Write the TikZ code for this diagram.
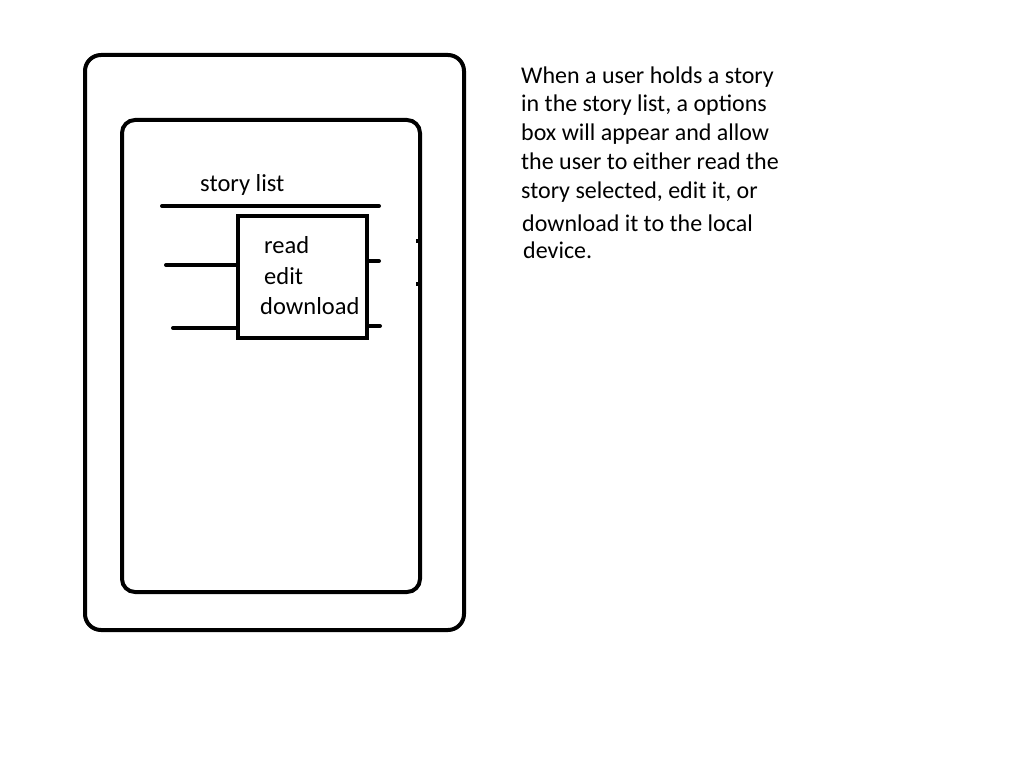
\documentclass[tikz,border=0pt]{standalone}
\usepackage{fontspec}
\setmainfont{Carlito}
\begin{document}
\begin{tikzpicture}[x=1pt,y=-1pt,
  thick line/.style={line width=4pt},
  frame/.style={draw,line width=4pt},
  txt/.style={inner sep=0pt,anchor=base west,font=\fontsize{24}{28}\selectfont},
  small/.style={inner sep=0pt,anchor=base west,font=\fontsize{24.5}{28}\selectfont}]
\useasboundingbox (0,0) rectangle (1025,762);
% outer and inner frames
\draw[frame,rounded corners=16pt] (85,55) rectangle (464,630);
\draw[frame,rounded corners=13pt] (122,120) rectangle (420,592);
% story list
\node[small] (sl) at (200,192) {story list};
\coordinate (slA) at (162,206);
\coordinate (slB) at (379,206);
\draw[thick line,line cap=round] (slA) -- (slB);
% options box
\node[draw,line width=4pt,minimum width=129pt,minimum height=122pt,inner sep=0pt] (box) at (302.5,277) {};
\node[small] (read) at (264,253) {read};
\node[small] (edit) at (264,284) {edit};
\node[small] (dl) at (260,314) {download};
% side lines
\coordinate (l1) at (166,265);
\coordinate (l2) at (173,328);
\draw[thick line,line cap=round] (l1) -- (l1 -| box.west);
\draw[thick line,line cap=round] (l2) -- (l2 -| box.west);
\coordinate (r1) at (379,261);
\coordinate (r2) at (380,326);
\draw[thick line,line cap=round] (r1 -| box.east) -- (r1);
\draw[thick line,line cap=round] (r2 -| box.east) -- (r2);
% small ticks on inner frame
\coordinate (t1) at (416,241);
\coordinate (t2) at (416,284);
\draw[line width=4pt] (t1) -- +(4,0);
\draw[line width=4pt] (t2) -- +(4,0);
% description
\node[txt] (p1) at (521,84) {When a user holds a story};
\node[txt] (p2) at (521,112) {in the story list, a options};
\node[txt] (p3) at (521,141) {box will appear and allow};
\node[txt] (p4) at (521,170) {the user to either read the};
\node[txt] (p5) at (521,199) {story selected, edit it, or};
\node[txt] (p6) at (522,231) {download it to the local};
\node[txt] (p7) at (523,258) {device.};
\end{tikzpicture}
\end{document}
